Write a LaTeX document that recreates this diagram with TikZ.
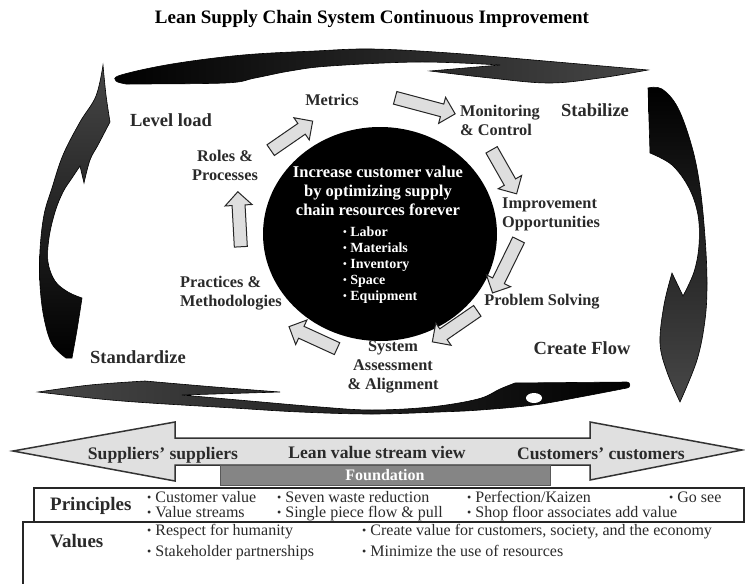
\documentclass[tikz,border=0pt]{standalone}
\usepackage{fontspec}
\usepackage{graphicx}
\setmainfont{Liberation Serif}
\usetikzlibrary{shapes.geometric,shapes.arrows,calc}
\definecolor{txt}{HTML}{2A2A2A}
\newcommand\bul{\raisebox{0.05em}{\scalebox{0.75}{\textbullet}}\ }
\newcommand\garr[3]{\path let \p1=($(#3)-(#2)$) in node (#1) [garrow, minimum height={veclen(\x1,\y1)}, rotate={atan2(\y1,\x1)}] at ($(#2)!0.5!(#3)$) {};}
\tikzset{
  biglab/.style={font=\fontsize{18.5}{22}\selectfont\bfseries, text=txt, inner sep=0pt},
  steplab/.style={font=\fontsize{16.3}{19}\selectfont\bfseries, text=txt, inner sep=0pt},
  garrow/.style={single arrow, draw=black!85, fill=black!13, line width=1pt, inner sep=6pt, single arrow head extend=7pt, single arrow tip angle=90},
  bigarrow/.style={draw=black, line width=0.6pt},
  boxtxt/.style={font=\fontsize{16}{18}\selectfont, text=txt, inner sep=0pt, anchor=base west},
  boxhead/.style={font=\fontsize{19}{22}\selectfont\bfseries, text=txt, inner sep=0pt, anchor=base west},
  streamtxt/.style={font=\fontsize{17.6}{20}\selectfont\bfseries, text=txt, inner sep=0pt, anchor=base},
}
\begin{document}
\begin{tikzpicture}[x=1pt,y=-1pt]
\useasboundingbox (0,0) rectangle (745,584);
\clip (0,0) rectangle (745,584);
\fill[white] (0,0) rectangle (745,584);

% title
\node (title) [font=\fontsize{19}{22}\selectfont\bfseries, inner sep=0pt, anchor=base] at (372,23) {Lean Supply Chain System Continuous Improvement};

% big curved arrows
% top (pointing right)
\path[bigarrow, left color=black, right color=black!72]
  plot[smooth,tension=0.6] coordinates {(126,84) (116,81) (121,75) (172,64) (243,55) (315,51) (372,49) (450,53) (545,61) (648,70)}
  -- plot[smooth,tension=0.6] coordinates {(648,70) (600,78) (549,83) (490,78) (430,71)}
  -- plot[smooth,tension=0.6] coordinates {(500,65) (420,62) (330,66) (290,71) (255,78) (225,83) (126,84)}
  -- cycle;
% right (pointing down)
\path[bigarrow, top color=black, bottom color=black!72]
  plot[smooth,tension=0.6] coordinates {(648,88) (662,89) (678,108) (692,147) (700,187) (705,237) (707,283) (705,320) (697,360) (680,402)}
  -- plot[smooth,tension=0.6] coordinates {(680,402) (667,372) (660,343) (664,305) (672,273)}
  -- plot[smooth,tension=0.6] coordinates {(683,296) (694,272) (699,245) (698,215) (689,188) (672,165) (650,153)}
  -- cycle;
% left (pointing up)
\path[bigarrow, top color=black!72, bottom color=black]
  plot[smooth,tension=0.6] coordinates {(103,65) (106,95) (110,122)}
  -- plot[smooth,tension=0.6] coordinates {(110,122) (98,145) (90,160) (84,183)}
  -- plot[smooth,tension=0.6] coordinates {(80,166) (72,178) (63,192) (55,212) (49,238) (48,262) (55,281) (68,292) (82,298)}
  -- plot[smooth,tension=0.6] coordinates {(82,298) (77,330) (72,358)}
  -- (66,358)
  -- plot[smooth,tension=0.6] coordinates {(66,358) (52,344) (44,318) (40,285) (40,250) (44,215) (52,188) (63,155) (80,122) (96,96) (103,65)}
  -- cycle;
% bottom (pointing left)
\path[bigarrow, left color=black!72, right color=black]
  plot[smooth,tension=0.6] coordinates {(38,392) (90,385) (145,381)}
  -- plot[smooth,tension=0.6] coordinates {(145,381) (215,387) (280,392)}
  -- plot[smooth,tension=0.6] coordinates {(182,395) (250,401) (320,407) (372,410) (430,407) (478,399) (500,389) (515,383)}
  -- (627,382) to[out=0,in=0,looseness=1.6] (627,388)
  -- plot[smooth,tension=0.6] coordinates {(627,388) (580,397) (534,405) (480,410) (439,412) (372,414) (300,412) (233,408) (150,403) (100,399) (38,392)}
  -- cycle;
\fill[white] (534,398) ellipse [x radius=8, y radius=5];

% central disc
\node (core) [ellipse, fill=black, minimum width=234, minimum height=214, inner sep=0pt] at (380,234) {};
\node (goal) [font=\fontsize{16.5}{19}\selectfont\bfseries, text=white, align=center, inner sep=0pt] at (378,191)
  {Increase customer value\\by optimizing supply\\chain resources forever};
\node (res) [font=\fontsize{14}{16}\selectfont\bfseries, text=white, align=left, inner sep=0pt, anchor=west] at (343,265)
  {\bul Labor\\\bul Materials\\\bul Inventory\\\bul Space\\\bul Equipment};

% corner labels
\node (level) [biglab, anchor=base] at (171,126) {Level load};
\node (stab)  [biglab, anchor=base] at (595,116) {Stabilize};
\node (std)   [biglab, anchor=base] at (138,363) {Standardize};
\node (flow)  [biglab, anchor=base] at (582,354) {Create Flow};

% step labels
\node (metrics) [steplab, anchor=base] at (332,105) {Metrics};
\node (monit) [steplab, align=left, anchor=west] at (460,120) {Monitoring\\\& Control};
\node (improv) [steplab, align=left, anchor=west] at (502,214) {Improvement\\Opportunities};
\node (prob) [steplab, anchor=base] at (542,305) {Problem Solving};
\node (sys) [steplab, align=center] at (393,367) {System\\Assessment\\\& Alignment};
\node (prac) [steplab, align=left, anchor=west] at (180,293) {Practices \&\\Methodologies};
\node (roles) [steplab, align=center] at (225,165) {Roles \&\\Processes};

% block arrows
\coordinate (a1s) at (268,152); \coordinate (a1t) at (310,123);
\coordinate (a2s) at (392,97);  \coordinate (a2t) at (452,113);
\coordinate (a3s) at (490,147); \coordinate (a3t) at (515,191);
\coordinate (a4s) at (520,237); \coordinate (a4t) at (494,290);
\coordinate (a5s) at (480,309); \coordinate (a5t) at (435,340);
\coordinate (a6s) at (340,350); \coordinate (a6t) at (292,328);
\coordinate (a7s) at (241,250); \coordinate (a7t) at (238,195);
\garr{ga1}{a1s}{a1t}
\garr{ga2}{a2s}{a2t}
\garr{ga3}{a3s}{a3t}
\garr{ga4}{a4s}{a4t}
\garr{ga5}{a5s}{a5t}
\garr{ga6}{a6s}{a6t}
\garr{ga7}{a7s}{a7t}

% value stream double arrow
\path[draw=black!80, fill=black!12, line width=1.5pt]
  (13,451) -- (175,422) -- (175,438) -- (590,438) -- (590,422) -- (742,450)
  -- (590,480) -- (590,465) -- (175,465) -- (175,481) -- cycle;
\node (sup) [streamtxt] at (163,459) {Suppliers' suppliers};
\node (lean) [streamtxt] at (377,458) {Lean value stream view};
\node (cust) [streamtxt] at (601,459) {Customers' customers};

% foundation
\node (found) [fill=black!48, draw=black!65, line width=0.8pt, minimum width=330, minimum height=20, inner sep=0pt,
  font=\fontsize{16}{18}\selectfont\bfseries, text=white] at (385,475) {Foundation};

% principles / values boxes
\node (valbox) [draw=black!85, line width=1.6pt, fill=white, minimum width=740, minimum height=80, inner sep=0pt, anchor=north west] at (22,521) {};
\node (prinbox) [draw=black!85, line width=2pt, fill=white, minimum width=710, minimum height=34, inner sep=0pt, anchor=north west] at (33,487) {};

\node (prin) [boxhead] at (50,510) {Principles};
\node (p1) [boxtxt] at (147,502) {\bul Customer value};
\node (p2) [boxtxt] at (147,517) {\bul Value streams};
\node (p3) [boxtxt] at (277,502) {\bul Seven waste reduction};
\node (p4) [boxtxt] at (277,517) {\bul Single piece flow \& pull};
\node (p5) [boxtxt] at (467,502) {\bul Perfection/Kaizen};
\node (p6) [boxtxt] at (467,517) {\bul Shop floor associates add value};
\node (p7) [boxtxt] at (669,502) {\bul Go see};

\node (vals) [boxhead] at (50,547) {Values};
\node (v1) [boxtxt] at (147,535) {\bul Respect for humanity};
\node (v2) [boxtxt] at (147,556) {\bul Stakeholder partnerships};
\node (v3) [boxtxt] at (362,535) {\bul Create value for customers, society, and the economy};
\node (v4) [boxtxt] at (362,556) {\bul Minimize the use of resources};
\end{tikzpicture}
\end{document}
